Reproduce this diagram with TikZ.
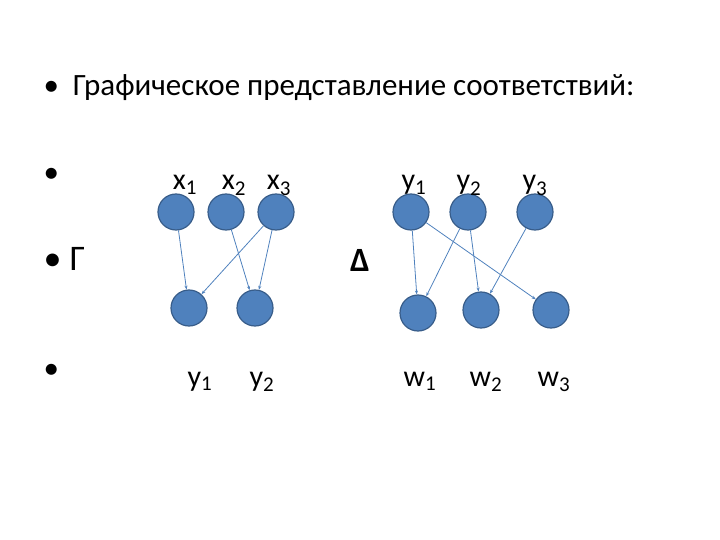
\documentclass[tikz,border=0pt]{standalone}
\usepackage{fontspec}
\usetikzlibrary{arrows.meta}
\setmainfont{Carlito}
\begin{document}
\begin{tikzpicture}[x=1pt,y=-1pt,
 v/.style={circle,fill={rgb,255:red,79;green,129;blue,189},draw={rgb,255:red,56;green,93;blue,138},line width=1.2pt,minimum size=36pt,inner sep=0pt},
 e/.style={draw={rgb,255:red,79;green,129;blue,189},line width=0.8pt,-{Stealth[length=4pt,width=3pt]}},
 lb/.style={font=\fontsize{30}{32}\selectfont,anchor=base},
 tx/.style={font=\fontsize{31}{34}\selectfont,anchor=base west}]
\useasboundingbox (0,0) rectangle (720,540);
\node[tx] (t1) at (40,96) {•\ \ Графическое представление соответствий:};
\node[tx] (b1) at (40,183) {•};
\node[tx,font=\fontsize{36}{38}\selectfont] (b2) at (40,270) {• Г};
\node[tx] (b3) at (40,378) {•};
\node[font=\bfseries\fontsize{34}{36}\selectfont] (d) at (360,260) {Δ};
\node[v] (x1) at (176,212) {}; \node[v] (x2) at (226,212) {}; \node[v] (x3) at (276,212) {};
\node[v] (p1) at (189,308) {}; \node[v] (p2) at (255,308) {};
\node[v] (y1) at (411,212) {}; \node[v] (y2) at (468,212) {}; \node[v] (y3) at (535,212) {};
\node[v] (w1) at (418,313) {}; \node[v] (w2) at (481,310) {}; \node[v] (w3) at (551,310) {};
\node[lb] (lx1) at (185,190) {x\textsubscript{1}}; \node[lb] (lx2) at (234,190) {x\textsubscript{2}}; \node[lb] (lx3) at (279,190) {x\textsubscript{3}};
\node[lb] (ly1) at (414,190) {y\textsubscript{1}}; \node[lb] (ly2) at (469,190) {y\textsubscript{2}}; \node[lb] (ly3) at (535,190) {y\textsubscript{3}};
\node[lb] (lp1) at (200,386) {y\textsubscript{1}}; \node[lb] (lp2) at (262,386) {y\textsubscript{2}};
\node[lb] (lw1) at (420,386) {w\textsubscript{1}}; \node[lb] (lw2) at (486,386) {w\textsubscript{2}}; \node[lb] (lw3) at (554,386) {w\textsubscript{3}};
\draw[e] (x1) -- (p1); \draw[e] (x2) -- (p2); \draw[e] (x3) -- (p1); \draw[e] (x3) -- (p2);
\draw[e] (y1) -- (w1); \draw[e] (y1) -- (w3); \draw[e] (y2) -- (w1); \draw[e] (y2) -- (w2); \draw[e] (y3) -- (w2);
\end{tikzpicture}
\end{document}
